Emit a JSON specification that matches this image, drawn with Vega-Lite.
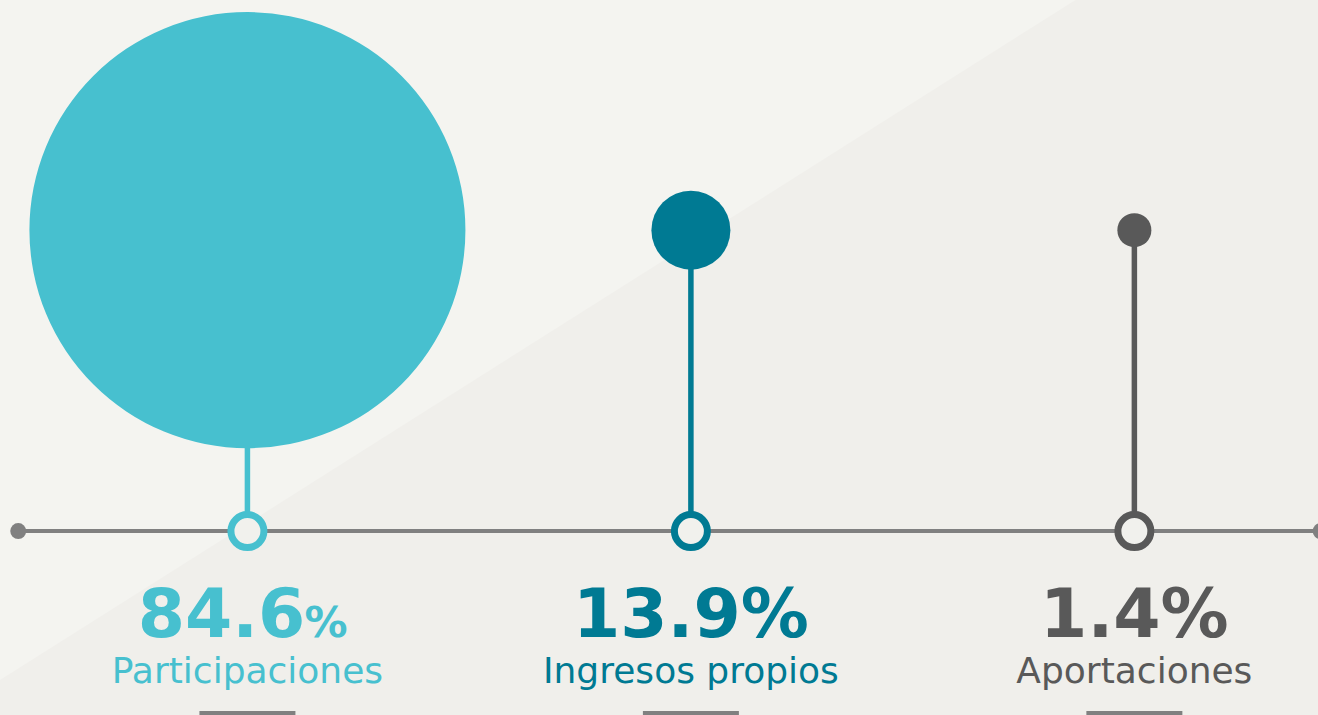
{
  "$schema": "https://vega.github.io/schema/vega-lite/v6.json",
  "width": 1318,
  "height": 715,
  "autosize": {"type": "none"},
  "padding": 0,
  "background": "#f4f4f0",
  "config": {"view": {"stroke": null}},
  "datasets": {
    "fuentes": [
      {"categoria": "Participaciones", "valor": 84.6},
      {"categoria": "Ingresos propios", "valor": 13.9},
      {"categoria": "Aportaciones", "valor": 1.4}
    ],
    "fondo": [
      {"bx": 0, "by": -0.49},
      {"bx": 0.816, "by": 1.747},
      {"bx": 1, "by": 1.747}
    ],
    "eje": [{"t": 0}, {"t": 1}]
  },
  "resolve": {"scale": {"x": "independent"}},
  "layer": [
    {
      "data": {"name": "fondo"},
      "mark": {"type": "area", "color": "#f0efeb", "interpolate": "linear"},
      "encoding": {
        "x": {"field": "bx", "type": "quantitative", "axis": null, "scale": {"domain": [0, 1], "nice": false, "zero": false}},
        "y": {"field": "by", "type": "quantitative", "axis": null, "scale": {"domain": [-0.605, 1.747], "nice": false, "zero": false}},
        "y2": {"datum": -0.605}
      }
    },
    {
      "data": {"name": "eje"},
      "layer": [
        {
          "mark": {"type": "line", "color": "#808080", "strokeWidth": 4},
          "encoding": {
            "x": {"field": "t", "type": "quantitative", "axis": null, "scale": {"domain": [-0.014, 0.998], "nice": false, "zero": false}},
            "y": {"datum": 0, "type": "quantitative", "axis": null, "scale": {"domain": [-0.605, 1.747], "nice": false, "zero": false}}
          }
        },
        {
          "mark": {"type": "point", "shape": "circle", "filled": true, "color": "#808080", "opacity": 1, "size": 256},
          "encoding": {
            "x": {"field": "t", "type": "quantitative", "axis": null, "scale": {"domain": [-0.014, 0.998], "nice": false, "zero": false}},
            "y": {"datum": 0, "type": "quantitative", "axis": null, "scale": {"domain": [-0.605, 1.747], "nice": false, "zero": false}}
          }
        }
      ]
    },
    {
      "data": {"name": "fuentes"},
      "encoding": {
        "x": {"field": "categoria", "type": "nominal", "axis": null, "sort": null,
              "scale": {"type": "point", "domain": ["Participaciones", "Ingresos propios", "Aportaciones"], "padding": 0.486, "align": 0.574}},
        "color": {"field": "categoria", "type": "nominal", "legend": null,
                  "scale": {"domain": ["Participaciones", "Ingresos propios", "Aportaciones"], "range": ["#47c0cf", "#007a93", "#595959"]}}
      },
      "layer": [
        {
          "mark": {"type": "rule", "strokeWidth": 5.5},
          "encoding": {
            "y": {"datum": 0, "type": "quantitative", "axis": null, "scale": {"domain": [-0.605, 1.747], "nice": false, "zero": false}},
            "y2": {"datum": 0.99}
          }
        },
        {
          "mark": {"type": "point", "shape": "circle", "filled": true, "opacity": 1, "strokeWidth": 0},
          "encoding": {
            "y": {"datum": 0.99, "type": "quantitative", "axis": null, "scale": {"domain": [-0.605, 1.747], "nice": false, "zero": false}},
            "size": {"field": "valor", "type": "quantitative", "legend": null,
                     "scale": {"type": "linear", "domain": [1.4, 13.9, 84.6], "range": [1156, 6241, 190096]}}
          }
        },
        {
          "mark": {"type": "point", "shape": "circle", "filled": false, "opacity": 1, "strokeWidth": 7, "size": 1089, "fill": "#f1f1ed", "fillOpacity": 1},
          "encoding": {
            "y": {"datum": 0, "type": "quantitative", "axis": null, "scale": {"domain": [-0.605, 1.747], "nice": false, "zero": false}},
            "stroke": {"field": "categoria", "type": "nominal", "legend": null,
                       "scale": {"domain": ["Participaciones", "Ingresos propios", "Aportaciones"], "range": ["#47c0cf", "#007a93", "#595959"]}}
          }
        },
        {
          "transform": [
            {"filter": "datum.categoria !== 'Participaciones'"},
            {"calculate": "format(datum.valor, '.1f') + '%'", "as": "texto"}
          ],
          "mark": {"type": "text", "font": "DejaVu Sans", "fontWeight": "bold", "fontSize": 68, "align": "center", "baseline": "alphabetic", "dy": 106},
          "encoding": {
            "y": {"datum": 0, "type": "quantitative", "axis": null, "scale": {"domain": [-0.605, 1.747], "nice": false, "zero": false}},
            "text": {"field": "texto", "type": "nominal"}
          }
        },
        {
          "transform": [{"filter": "datum.categoria === 'Participaciones'"}],
          "mark": {"type": "text", "font": "DejaVu Sans", "fontWeight": "bold", "fontSize": 68, "align": "right", "baseline": "alphabetic", "dy": 106, "dx": 58},
          "encoding": {
            "y": {"datum": 0, "type": "quantitative", "axis": null, "scale": {"domain": [-0.605, 1.747], "nice": false, "zero": false}},
            "text": {"field": "valor", "type": "quantitative", "format": ".1f"}
          }
        },
        {
          "transform": [{"filter": "datum.categoria === 'Participaciones'"}],
          "mark": {"type": "text", "font": "DejaVu Sans", "fontWeight": "bold", "fontSize": 43, "align": "left", "baseline": "alphabetic", "dy": 106, "dx": 57},
          "encoding": {
            "y": {"datum": 0, "type": "quantitative", "axis": null, "scale": {"domain": [-0.605, 1.747], "nice": false, "zero": false}},
            "text": {"value": "%"}
          }
        },
        {
          "mark": {"type": "text", "font": "DejaVu Sans", "fontSize": 36, "align": "center", "baseline": "alphabetic", "dy": 152},
          "encoding": {
            "y": {"datum": 0, "type": "quantitative", "axis": null, "scale": {"domain": [-0.605, 1.747], "nice": false, "zero": false}},
            "text": {"field": "categoria", "type": "nominal"}
          }
        },
        {
          "mark": {"type": "tick", "orient": "horizontal", "color": "#808080", "opacity": 1, "size": 96, "thickness": 8},
          "encoding": {
            "y": {"datum": -0.605, "type": "quantitative", "axis": null, "scale": {"domain": [-0.605, 1.747], "nice": false, "zero": false}},
            "color": {"value": "#808080"}
          }
        }
      ]
    }
  ]
}
